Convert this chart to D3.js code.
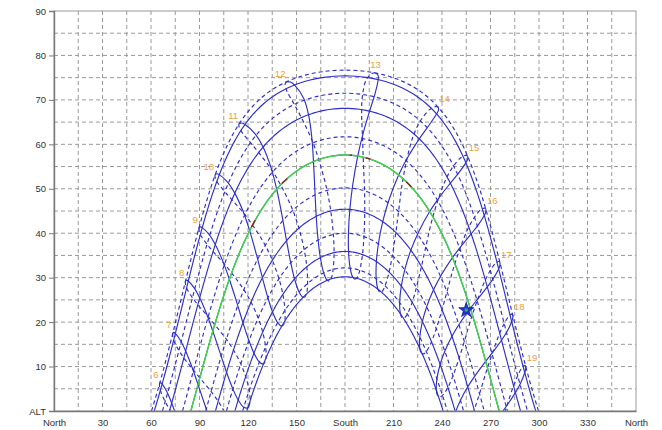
<!DOCTYPE html>
<html><head><meta charset="utf-8">
<script src="https://cdn.jsdelivr.net/npm/d3@7"></script>
<style>
body{margin:0;background:#fff}
svg{display:block}
text{font-family:Arial,"Liberation Sans",sans-serif}
</style>
</head><body>
<svg id="chart" width="662" height="430"></svg>
<script>
// ---------------- data ----------------
const LATITUDE = 36.7;          // site latitude (deg N), read from noon heights
const NOON_CLOCK = 12.65;       // legal clock time of mean solar noon
const months = ["Jan","Feb","Mar","Apr","May","Jun","Jul","Aug","Sep","Oct","Nov","Dec"];
// noon sun height of each monthly date curve (1st of month)
const noonAltitude = [30.2, 35.9, 45.4, 57.6, 68.1, 75.4, 76.7, 71.5, 61.7, 50.2, 40.0, 32.2];
const hours = [6,7,8,9,10,11,12,13,14,15,16,17,18,19];
// analemma support dates for the hour lines: declination (deg) and equation of time (min)
const anaDates = ["Dec 21","Jan 1","Jan 15","Feb 1","Feb 15","Mar 1","Mar 15","Apr 1","Apr 15","May 1","May 15","Jun 1","Jun 11","Jun 21",
                  "Jul 1","Jul 15","Aug 1","Aug 15","Sep 1","Sep 15","Oct 1","Oct 15","Nov 1","Nov 15","Dec 1","Dec 11","Dec 21"];
const anaDecl = [-23.44,-23.0,-21.2,-17.3,-12.9,-7.9,-2.4,4.3,9.7,14.9,18.7,22.0,23.0,23.44,
                 23.1,21.6,18.1,14.0,8.4,2.9,-3.0,-8.4,-14.3,-18.4,-21.7,-23.0,-23.44];
const anaEoT  = [2.0,-3.2,-9.2,-13.6,-14.2,-12.5,-9.0,-4.0,0.0,2.9,3.7,2.2,0.8,-1.6,
                 -3.7,-6.0,-6.3,-4.5,0.0,4.6,10.2,14.2,16.4,15.4,11.1,6.8,2.0];
const currentNoonAltitude = 57.6;               // green curve (current day)
const redSegmentsAz = [[122,125],[141,144.5],[182,185],[192.5,196.5],[217,222]];
const sunNow = {az: 255, alt: 22.7};
const xTickValues = [0,30,60,90,120,150,180,210,240,270,300,330,360];
const xTickLabels = ["North","30","60","90","120","150","South","210","240","270","300","330","North"];
const yTickValues = [0,10,20,30,40,50,60,70,80,90];

// ---------------- layout ----------------
const L = 54, R = 636, T = 11, B = 411;
const svg = d3.select("#chart");
const x = d3.scaleLinear().domain([0,360]).range([L,R]);
const y = d3.scaleLinear().domain([0,90]).range([B,T]);
const BLUE = "#2f2fc8", GRID = "#9a9a9a";

svg.append("defs").append("clipPath").attr("id","plot")
  .append("rect").attr("x",L).attr("y",T).attr("width",R-L).attr("height",B-T);

// grid
const g = svg.append("g");
g.selectAll(".vg").data(d3.range(15,360,15)).join("line")
  .attr("x1",d=>x(d)).attr("x2",d=>x(d)).attr("y1",T).attr("y2",B)
  .attr("stroke",GRID).attr("stroke-dasharray","4,3").attr("stroke-width",1);
g.selectAll(".hg").data(d3.range(5,90,5)).join("line")
  .attr("y1",d=>y(d)).attr("y2",d=>y(d)).attr("x1",L).attr("x2",R)
  .attr("stroke",GRID).attr("stroke-dasharray","4,3").attr("stroke-width",1);

// solar geometry
const rad = Math.PI/180;
function sunPos(decl, H){
  const p = LATITUDE*rad, d = decl*rad, h = H*rad;
  const sa = Math.sin(p)*Math.sin(d) + Math.cos(p)*Math.cos(d)*Math.cos(h);
  const alt = Math.asin(sa)/rad;
  const az = Math.atan2(Math.sin(h), Math.cos(h)*Math.sin(p) - Math.tan(d)*Math.cos(p))/rad + 180;
  return {az, alt};
}
function dayPoints(decl){
  const p = LATITUDE*rad, d = decl*rad;
  const H0 = Math.acos(-Math.tan(p)*Math.tan(d))/rad;
  return d3.range(0,241).map(i => sunPos(decl, -H0 + 2*H0*i/240));
}
const declFromNoon = a => a - (90 - LATITUDE);

const line = d3.line().x(d=>x(d.az)).y(d=>y(d.alt));
const smooth = d3.line().x(d=>x(d.az)).y(d=>y(d.alt)).curve(d3.curveCatmullRom.alpha(0.5));

const plot = svg.append("g").attr("clip-path","url(#plot)");

// date curves: Jan-Jun solid, Jul-Dec dashed
plot.selectAll(".day").data(noonAltitude).join("path")
  .attr("d",(a)=>line(dayPoints(declFromNoon(a))))
  .attr("fill","none").attr("stroke",BLUE).attr("stroke-width",1.15)
  .attr("stroke-dasharray",(a,i)=> i<6 ? null : "4,3");

// hour lines (analemma): first half solid, second half dashed
const SPLIT = anaDates.indexOf("Jun 21");
function hourPoints(h, from, to){
  const pts = [];
  for(let i=from;i<=to;i++){
    const H = 15*(h - NOON_CLOCK + anaEoT[i]/60);
    pts.push(sunPos(anaDecl[i], H));
  }
  return pts;
}
hours.forEach(h=>{
  plot.append("path").attr("d",smooth(hourPoints(h,0,SPLIT)))
    .attr("fill","none").attr("stroke",BLUE).attr("stroke-width",1.15);
  plot.append("path").attr("d",smooth(hourPoints(h,SPLIT,anaDates.length-1)))
    .attr("fill","none").attr("stroke",BLUE).attr("stroke-width",1.15).attr("stroke-dasharray","4,3");
});

// current day curve
const cur = dayPoints(declFromNoon(currentNoonAltitude));
plot.append("path").attr("d",line(cur)).attr("fill","none").attr("stroke","#3ddc3d").attr("stroke-width",1.4);
redSegmentsAz.forEach(([a0,a1])=>{
  const seg = cur.filter(p=>p.az>=a0 && p.az<=a1);
  plot.append("path").attr("d",line(seg)).attr("fill","none").attr("stroke","#8b1f2a").attr("stroke-width",1.4);
});

// sun marker
const sm = svg.append("g").attr("transform",`translate(${x(sunNow.az)},${y(sunNow.alt)})`);
sm.append("path").attr("d",d3.symbol(d3.symbolStar,70)()).attr("fill","#2233cc").attr("stroke","#1a1aa0").attr("stroke-width",0.8);
sm.append("circle").attr("r",1.8).attr("fill","#33aa66");

// hour labels at the top of each hour line
hours.forEach(h=>{
  const top = hourPoints(h,SPLIT,SPLIT)[0];
  const px = x(top.az), py = y(top.alt);
  let anchor = h<=12 ? "end" : "start", dx = h<=12 ? -1 : 1;
  if(h===13){ anchor="middle"; dx=0; }
  svg.append("text").attr("x",px+dx).attr("y",py-5)
    .attr("text-anchor",anchor).attr("font-size",9.5).attr("fill","#e6a23c").text(h);
});

// frame and axes
svg.append("rect").attr("x",L).attr("y",T).attr("width",R-L).attr("height",B-T)
  .attr("fill","none").attr("stroke","#9a9a9a").attr("stroke-width",1);

const ya = svg.append("g").attr("transform",`translate(${L},0)`)
  .call(d3.axisLeft(y).tickValues(yTickValues).tickSize(5).tickPadding(3).tickFormat(d=>d===0?"ALT":d));
ya.select(".domain").attr("stroke","#7a7a7a").attr("stroke-width",1.4);
ya.selectAll(".tick line").attr("stroke","#7a7a7a");
ya.selectAll("text").attr("font-size",9.5).attr("fill","#333").attr("font-family","Arial, 'Liberation Sans', sans-serif");

const xa = svg.append("g").attr("transform",`translate(0,${B})`)
  .call(d3.axisBottom(x).tickValues(xTickValues).tickSize(0).tickPadding(8).tickFormat((d,i)=>xTickLabels[i]));
xa.select(".domain").attr("stroke","#7a7a7a").attr("stroke-width",1.4);
xa.selectAll("text").attr("font-size",9.5).attr("fill","#333").attr("font-family","Arial, 'Liberation Sans', sans-serif");
</script>
</body></html>
